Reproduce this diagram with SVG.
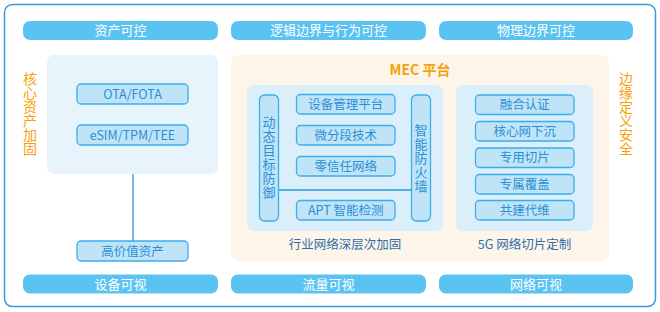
<svg xmlns="http://www.w3.org/2000/svg" width="660" height="312" viewBox="0 0 660 312">
<style>
text{font-family:"Noto Sans CJK SC","Noto Sans",sans-serif;}
.bar{fill:#5ac3f1;}
.bt{fill:#ffffff;font-size:13px;text-anchor:middle;}
.box{fill:#bfe4f8;stroke:#3badea;stroke-width:1.3;}
.tx{fill:#2b8fd4;font-size:12.5px;text-anchor:middle;}
.vt{fill:#2b8fd4;font-size:13px;text-anchor:middle;writing-mode:vertical-rl;letter-spacing:1px;}
.or{fill:#f6a10a;font-size:14px;text-anchor:middle;writing-mode:vertical-rl;}
.lb{fill:#2e6fa6;font-size:12.5px;text-anchor:middle;}
.ln{stroke:#2b9ad8;stroke-width:1.3;fill:none;}
</style>
<rect x="0" y="0" width="660" height="312" fill="#ffffff"/>
<rect x="4.5" y="4.5" width="651" height="302" rx="8" fill="#ffffff" stroke="#3a98d6" stroke-width="1.5"/>

<g id="bars">
<rect class="bar" x="23" y="21" width="195" height="19" rx="7"/><text class="bt" x="120.5" y="35">资产可控</text>
<rect class="bar" x="231" y="21" width="195" height="19" rx="7"/><text class="bt" x="328.5" y="35">逻辑边界与行为可控</text>
<rect class="bar" x="439" y="21" width="194" height="19" rx="7"/><text class="bt" x="536" y="35">物理边界可控</text>
<rect class="bar" x="23" y="274.5" width="195" height="19" rx="7"/><text class="bt" x="120.5" y="288.5">设备可视</text>
<rect class="bar" x="231" y="274.5" width="195" height="19" rx="7"/><text class="bt" x="328.5" y="288.5">流量可视</text>
<rect class="bar" x="439" y="274.5" width="194" height="19" rx="7"/><text class="bt" x="536" y="288.5">网络可视</text>
</g>

<g id="side-left"><text class="or" x="30" y="113.5">核心资产加固</text></g>
<g id="side-right"><text class="or" x="626" y="113.5">边缘定义安全</text></g>

<g id="asset-panel">
<rect x="47" y="55" width="171" height="119" rx="7" fill="#e7f4fc"/>
</g>
<g id="mec-panel">
<rect x="231" y="55" width="378" height="206" rx="7" fill="#fdf5e9"/>
<text x="420" y="75" font-size="14" font-weight="bold" fill="#f6a10a" text-anchor="middle">MEC 平台</text>
</g>
<g id="industry-panel">
<rect x="247" y="85" width="196" height="146" rx="7" fill="#dbeffa"/>
<text class="lb" x="345" y="249">行业网络深层次加固</text>
</g>
<g id="slice-panel">
<rect x="456" y="85" width="137" height="146" rx="7" fill="#dbeffa"/>
<text class="lb" x="524.5" y="249">5G 网络切片定制</text>
</g>

<g id="connectors">
<line class="ln" x1="133" y1="174" x2="133" y2="241"/>
<line class="ln" x1="278.5" y1="190" x2="411.5" y2="190"/>
</g>

<g id="ota"><rect class="box" x="77" y="84" width="111" height="20" rx="4"/><text class="tx" x="132.5" y="98.5">OTA/FOTA</text></g>
<g id="esim"><rect class="box" x="77" y="125" width="111" height="20" rx="4"/><text class="tx" x="132.5" y="139.5">eSIM/TPM/TEE</text></g>
<g id="asset"><rect class="box" x="77" y="241" width="111" height="20" rx="4"/><text class="tx" x="132.5" y="255.5">高价值资产</text></g>

<g id="dynamic-defense"><rect class="box" x="259.5" y="95" width="19" height="126" rx="5"/>
<text class="vt" x="269" y="158">动态目标防御</text></g>
<g id="firewall"><rect class="box" x="411.5" y="95" width="19" height="126" rx="5"/>
<text class="vt" x="421" y="159">智能防火墙</text></g>

<g id="device-mgmt"><rect class="box" x="296.5" y="94.5" width="98.5" height="19.5" rx="4"/><text class="tx" x="345.7" y="108.7">设备管理平台</text></g>
<g id="microseg"><rect class="box" x="296.5" y="125.5" width="98.5" height="19.5" rx="4"/><text class="tx" x="345.7" y="139.7">微分段技术</text></g>
<g id="zerotrust"><rect class="box" x="296.5" y="156.5" width="98.5" height="19.5" rx="4"/><text class="tx" x="345.7" y="170.7">零信任网络</text></g>
<g id="apt"><rect class="box" x="296.5" y="200.5" width="98.5" height="19.5" rx="4"/><text class="tx" x="345.7" y="214.7">APT 智能检测</text></g>

<g id="auth"><rect class="box" x="475.5" y="95" width="98.5" height="19.5" rx="4"/><text class="tx" x="524.7" y="109.2">融合认证</text></g>
<g id="core"><rect class="box" x="475.5" y="121.5" width="98.5" height="19.5" rx="4"/><text class="tx" x="524.7" y="135.7">核心网下沉</text></g>
<g id="slice"><rect class="box" x="475.5" y="148" width="98.5" height="19.5" rx="4"/><text class="tx" x="524.7" y="162.2">专用切片</text></g>
<g id="coverage"><rect class="box" x="475.5" y="174.5" width="98.5" height="19.5" rx="4"/><text class="tx" x="524.7" y="188.7">专属覆盖</text></g>
<g id="maint"><rect class="box" x="475.5" y="200.5" width="98.5" height="19.5" rx="4"/><text class="tx" x="524.7" y="214.7">共建代维</text></g>
</svg>
